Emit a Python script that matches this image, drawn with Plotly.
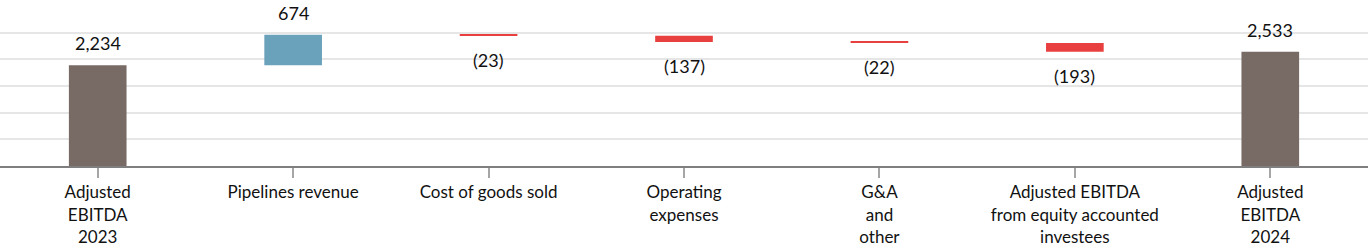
import plotly.graph_objects as go

categories = ["Adjusted<br>EBITDA<br>2023", "Pipelines revenue", "Cost of goods sold",
              "Operating<br>expenses", "G&A<br>and<br>other",
              "Adjusted EBITDA<br>from equity accounted<br>investees", "Adjusted<br>EBITDA<br>2024"]
values = [2234, 674, -23, -137, -22, -193, 2533]
measures = ["absolute", "relative", "relative", "relative", "relative", "relative", "total"]
labels = ["2,234", "674", "(23)", "(137)", "(22)", "(193)", "2,533"]
grid_values = [0, 590, 1180, 1770, 2360, 2950]

TOTAL = "#786A64"
UP = "#6BA2BB"
DOWN = "#E8403F"

fig = go.Figure(go.Waterfall(
    x=categories, y=values, measure=measures,
    width=0.295,
    connector=dict(visible=False),
    increasing=dict(marker=dict(color=UP, line=dict(width=0))),
    decreasing=dict(marker=dict(color=DOWN, line=dict(width=0))),
    totals=dict(marker=dict(color=TOTAL, line=dict(width=0))),
    textposition="none",
    hoverinfo="skip",
))

# label positions from cumulative values
cum = 0
for cat, v, m, lab in zip(categories, values, measures, labels):
    if m == "absolute":
        cum = v
        top, below = v, False
    elif m == "total":
        top, below = cum, False
    else:
        cum += v
        if v >= 0:
            top, below = cum, False
        else:
            top, below = cum, True
    fig.add_annotation(
        x=cat, y=top, text=lab, showarrow=False,
        yanchor="top" if below else "bottom",
        yshift=-11 if below else 9,
        font=dict(family="Lato", size=18, color="#111111"),
    )

fig.update_layout(
    width=1368, height=248,
    margin=dict(l=0, r=0, t=0, b=82, autoexpand=False),
    paper_bgcolor="white", plot_bgcolor="white",
    showlegend=False,
    xaxis=dict(
        range=[-0.5, 6.5],
        automargin=False,
        showgrid=False,
        showline=True, linecolor="#7F7F7F", linewidth=2,
        ticks="outside", ticklen=10, tickwidth=2, tickcolor="#A6A6A6",
        tickfont=dict(family="Lato", size=17, color="#111111"),
    ),
    yaxis=dict(
        range=[0, 3677], tickmode="array", tickvals=grid_values,
        automargin=False,
        showgrid=True, gridcolor="#E6E6E6", gridwidth=2,
        showticklabels=False, zeroline=False, showline=False,
    ),
)

fig.write_html("out.html")
